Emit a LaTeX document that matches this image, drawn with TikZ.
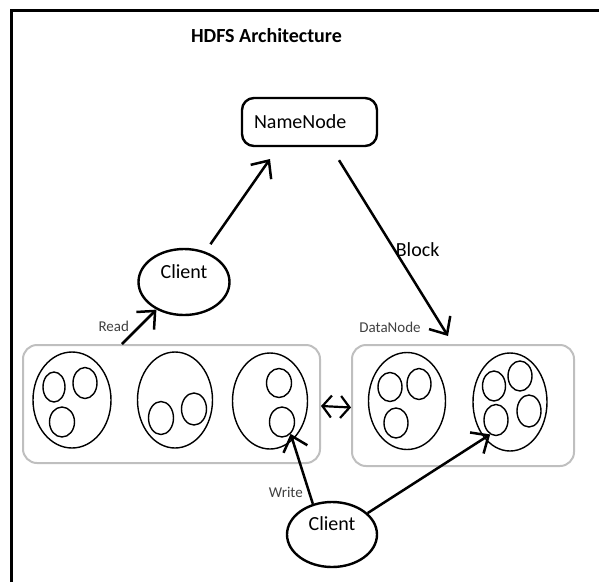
\documentclass[tikz,border=0pt]{standalone}
\usepackage{fontspec}
\setmainfont{Carlito}
\usetikzlibrary{arrows.meta}
\usetikzlibrary{shapes.geometric}

\begin{document}
\begin{tikzpicture}[x=1pt,y=-1pt,
	client/.style={ellipse, draw, line width=2.4pt, font=\fontsize{20}{24}\selectfont, text depth=21pt},
	namebox/.style={rectangle, rounded corners=12pt, draw, line width=2.4pt, font=\fontsize{20}{24}\selectfont},
	rack/.style={rectangle, rounded corners=14pt, draw=black!25, line width=2pt},
	cell/.style={ellipse, draw, line width=1.4pt, inner sep=0pt},
	arr/.style={line width=2.5pt, -{Straight Barb[length=14pt,width=25pt]}},
	dbl/.style={line width=2.2pt, {Straight Barb[length=9pt,width=22pt]}-{Straight Barb[length=9pt,width=22pt]}},
	tag/.style={font=\fontsize{15}{18}\selectfont, text=black!75, inner sep=0pt},
	big/.style={font=\fontsize{20}{24}\selectfont, inner sep=0pt}]

\useasboundingbox (0,0) rectangle (599,582);
\draw[line width=3.5pt] (11.5,582) -- (11.5,10.7) -- (599,10.7);

\node[font=\bfseries\fontsize{20}{24}\selectfont] (title) at (266.5,36) {HDFS Architecture};

\node[namebox, text width=111pt, align=left, inner xsep=12pt, minimum height=48pt] (nn) at (309.5,122) {NameNode};
\node[client, minimum width=91pt, minimum height=66pt] (cl1) at (184,282) {Client};
\node[client, minimum width=90pt, minimum height=65pt] (cl2) at (332,534.5) {Client};

% datanode racks
\node[rack, minimum width=297pt, minimum height=118pt] (dn1) at (171.5,404) {};
\node[rack, minimum width=222pt, minimum height=121pt] (dn2) at (463,405.5) {};
\node[tag] (dnlbl) at (390,327) {DataNode};

\foreach \n/\x/\y/\w/\h in {
	e1/72/400/78/96, e11/54/387/22/30, e12/85/383/24/31, e13/62/422/25/30,
	e2/175/400/75/96, e21/161/418/25/33, e22/194/409/25/32,
	e3/270/401/75/96, e31/279/383/25/29, e32/282/422/25/30,
	e4/407/401/77/97, e41/390/387/24/29, e42/419/384/24/31, e43/396/423/24/30,
	e5/510/402/74/98, e51/494/386/23/30, e52/520/376/24/30, e53/529/411/24/32, e54/496/420/24/31}
	\node[cell, minimum width=\w pt, minimum height=\h pt] (\n) at (\x,\y) {};

\coordinate (nnin) at (270,159);
\draw[arr, shorten <=9pt] (cl1) -- (nnin);
\draw[arr] ([xshift=29.5pt,yshift=-13pt]nn.south) -- node[big, pos=0.51, anchor=west] {Block} ([xshift=-15pt,yshift=8pt]dn2.north);
\draw[arr] ([xshift=-49.5pt]dn1.north) -- node[tag, left=9pt] {Read} (cl1.225);
\draw[dbl] ([yshift=-2pt]dn1.east) -- ([yshift=-2pt]dn2.west);
\draw[arr] (cl2.122) -- node[tag, pos=0.17, left=5pt] {Write} (e32.306);
\draw[arr] (cl2.31) -- (e54.248);
\end{tikzpicture}
\end{document}
